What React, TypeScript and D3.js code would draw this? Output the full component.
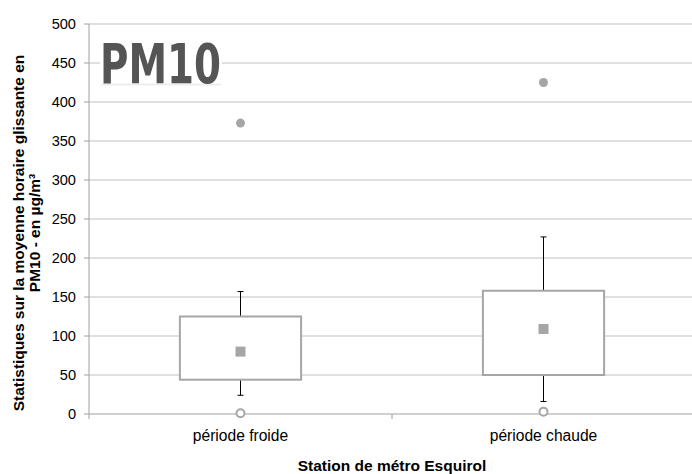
import React from "react";
import * as d3 from "d3";

const categories = ["période froide", "période chaude"];
const q1 = [44, 50];
const q3 = [125, 158];
const whiskerLow = [24, 16];
const whiskerHigh = [157, 227];
const means = [80, 109];
const minValues = [1, 3];
const maxValues = [373, 425];
const yTicks = [0, 50, 100, 150, 200, 250, 300, 350, 400, 450, 500];

const W = 692;
const H = 474;
const left = 89;
const right = 695;
const top = 24;
const bottom = 414;

export default function App() {
  const y = d3.scaleLinear().domain([0, 500]).range([bottom, top]);
  const x = d3.scaleBand<string>().domain(categories).range([left, right]).padding(0);
  const bw = x.bandwidth() * 0.4;
  const grey = "#a6a6a6";
  const font = "'Liberation Sans', Arial, sans-serif";
  return (
    <svg width={W} height={H} style={{ position: "absolute", left: 0, top: 0, background: "#fff" }}>
      {yTicks.map((t) => (
        <g key={t}>
          <line x1={left} x2={W} y1={y(t)} y2={y(t)} stroke={t === 0 ? "#a0a0a0" : "#c0c0c0"} strokeWidth={1} />
          <line x1={left - 5} x2={left} y1={y(t)} y2={y(t)} stroke="#a0a0a0" />
          <text x={76} y={y(t)} dy="0.36em" textAnchor="end" fontFamily={font} fontSize={14.6} fill="#000">
            {t}
          </text>
        </g>
      ))}
      <line x1={left} x2={left} y1={top} y2={bottom} stroke="#a0a0a0" />
      {[left, left + x.bandwidth(), right].map((v, i) => (
        <line key={i} x1={v} x2={v} y1={bottom} y2={bottom + 5} stroke="#a0a0a0" />
      ))}
      {/* PM10 logo */}
      <rect x={100} y={36} width={122} height={52} fill="#fff" />
      <line x1={101} x2={221} y1={84.5} y2={84.5} stroke="#eeeeee" strokeWidth={2} />
      <text x={100} y={83} fontFamily="'Liberation Sans Narrow', 'DejaVu Sans Condensed', Arial, sans-serif" fontWeight="bold" fontSize={55} fill="#555555" textLength={121} lengthAdjust="spacingAndGlyphs">
        PM10
      </text>
      {categories.map((c, i) => {
        const cx = (x(c) as number) + x.bandwidth() / 2;
        return (
          <g key={c}>
            <line x1={cx} x2={cx} y1={y(whiskerHigh[i])} y2={y(q3[i])} stroke="#000" />
            <line x1={cx - 3} x2={cx + 3} y1={y(whiskerHigh[i])} y2={y(whiskerHigh[i])} stroke="#000" />
            <line x1={cx} x2={cx} y1={y(q1[i])} y2={y(whiskerLow[i])} stroke="#000" />
            <line x1={cx - 3} x2={cx + 3} y1={y(whiskerLow[i])} y2={y(whiskerLow[i])} stroke="#000" />
            <rect x={cx - bw / 2} y={y(q3[i])} width={bw} height={y(q1[i]) - y(q3[i])} fill="#fff" stroke={grey} strokeWidth={2} />
            <rect x={cx - 5} y={y(means[i]) - 5} width={10} height={10} fill={grey} />
            <circle cx={cx} cy={y(maxValues[i])} r={4.5} fill={grey} />
            <circle cx={cx} cy={y(minValues[i])} r={4} fill="#fff" stroke={grey} strokeWidth={2} />
            <text x={cx} y={441} textAnchor="middle" fontFamily={font} fontSize={15.6} fill="#000">
              {c}
            </text>
          </g>
        );
      })}
      <text x={(left + right) / 2} y={471} textAnchor="middle" fontFamily={font} fontWeight="bold" fontSize={15.5} fill="#000">
        Station de métro Esquirol
      </text>
      <g transform={`translate(24, 233) rotate(-90)`}>
        <text x={0} y={0} textAnchor="middle" fontFamily={font} fontWeight="bold" fontSize={15.5} fill="#000">
          Statistiques sur la moyenne horaire glissante en
        </text>
        <text x={0} y={16} textAnchor="middle" fontFamily={font} fontWeight="bold" fontSize={15.5} fill="#000">
          PM10 - en µg/m³
        </text>
      </g>
    </svg>
  );
}
